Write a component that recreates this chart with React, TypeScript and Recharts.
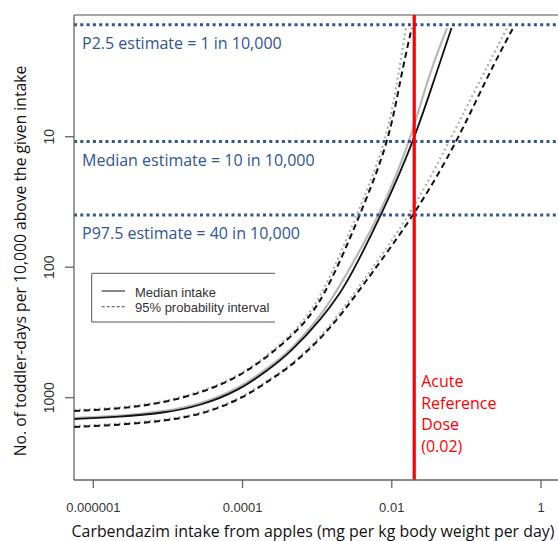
import React from 'react';
import { LineChart, Line, XAxis, YAxis, ReferenceLine, Legend } from 'recharts';

// Axis domains (log scales)
const X_MIN = 5.51e-7;
const X_MAX = 1.69;
const Y_TOP = 1.168;
const Y_BOTTOM = 4273;

const xTicks = [0.000001, 0.0001, 0.01, 1];
const xTickLabels = ['0.000001', '0.0001', '0.01', '1'];
const yTicks = [10, 100, 1000];

// Black curves
const lowerBoundX = [5.51e-7, 2.21e-6, 8.86e-6, 3.34e-5, 9.24e-5, 2.33e-4, 7.24e-4, 1.487e-3, 3.75e-3, 9.18e-3, 1.317e-2, 1.849e-2];
const lowerBoundY = [1265, 1221, 1098, 889, 682, 471, 268, 137, 39.8, 11.0, 3.49, 1.47];

const medianX = [5.51e-7, 2.21e-6, 8.86e-6, 2.69e-5, 9.24e-5, 2.19e-4, 4.33e-4, 1.198e-3, 2.024e-3, 2.76e-3, 7.29e-3, 1.955e-2, 3.8e-2, 6.32e-2];
const medianY = [1456, 1406, 1310, 1158, 873, 614, 455, 241, 158, 119, 39.8, 11.0, 3.49, 1.47];

const upperBoundX = [5.51e-7, 2.21e-6, 8.86e-6, 2.69e-5, 9.24e-5, 2.33e-4, 4.33e-4, 1.198e-3, 2.76e-3, 4.95e-3, 2.02e-2, 7.49e-2, 0.189, 0.4215];
const upperBoundY = [1677, 1619, 1508, 1357, 1041, 732, 582, 343, 188, 119, 39.8, 11.0, 3.49, 1.47];

// Grey curves
const altMedianX = [5.51e-7, 2.21e-6, 8.86e-6, 2.69e-5, 9.24e-5, 2.19e-4, 4.33e-4, 1.198e-3, 2.36e-3, 6.96e-3, 1.755e-2, 3.06e-2, 5.5e-2];
const altMedianY = [1431, 1381, 1276, 1130, 843, 592, 439, 228, 119, 39.8, 11.0, 3.49, 1.47];

const altLowerX = [5.51e-7, 2.21e-6, 8.86e-6, 3.34e-5, 9.24e-5, 2.33e-4, 6.87e-4, 1.355e-3, 3.42e-3, 8.5e-3, 1.212e-2, 1.551e-2];
const altLowerY = [1243, 1199, 1079, 873, 670, 463, 263, 137, 39.8, 11.0, 3.49, 1.47];

const altUpperX = [5.51e-7, 2.21e-6, 8.86e-6, 2.69e-5, 9.24e-5, 2.33e-4, 4.33e-4, 1.198e-3, 2.59e-3, 4.51e-3, 1.782e-2, 5.85e-2, 0.1604, 0.3503];
const altUpperY = [1648, 1590, 1482, 1334, 1023, 719, 572, 331, 185, 119, 39.8, 11.0, 3.49, 1.47];

// Annotations
const thresholdValues = [1.39, 10.9, 39.8];
const thresholdLabels = ['P2.5 estimate = 1 in 10,000', 'Median estimate = 10 in 10,000', 'P97.5 estimate = 40 in 10,000'];
const ARFD = 0.02;
const arfdLabelLines = ['Acute', 'Reference', 'Dose', '(0.02)'];
const legendLabels = ['Median intake', '95% probability interval'];

const xTitle = 'Carbendazim intake from apples (mg per kg body weight per day)';
const yTitle = 'No. of toddler-days per 10,000 above the given intake';

const BLUE = '#2F5597';
const RED = '#FF0000';
const AXIS = '#666';
const SANS = '"Open Sans", "Noto Sans", sans-serif';
const ARIAL = '"Liberation Sans", Arial, sans-serif';

const toPoints = (xs: number[], ys: number[]) => xs.map((x, i) => ({ x, y: ys[i] }));

const lowerBound = toPoints(lowerBoundX, lowerBoundY);
const median = toPoints(medianX, medianY);
const upperBound = toPoints(upperBoundX, upperBoundY);
const altMedian = toPoints(altMedianX, altMedianY);
const altLower = toPoints(altLowerX, altLowerY);
const altUpper = toPoints(altUpperX, altUpperY);

const formatX = (v: number) => {
  const i = xTicks.indexOf(v);
  return i >= 0 ? xTickLabels[i] : String(v);
};

const YTick = (props: any) => {
  const { x, y, payload } = props;
  return (
    <text
      x={x}
      y={y}
      transform={`rotate(-90 ${x} ${y})`}
      textAnchor="middle"
      dy="0.36em"
      fontSize={14}
      fill="#333"
      fontFamily={ARIAL}
    >
      {payload.value}
    </text>
  );
};

const makeThresholdLabel = (text: string) => (props: any) => {
  const vb = (props && props.viewBox) || {};
  const x = (vb.x ?? 74) + 8;
  const y = (vb.y ?? 0) + 24;
  return (
    <text x={x} y={y} fill={BLUE} fontSize={16} fontFamily={SANS}>
      {text}
    </text>
  );
};

const arfdLabel = (props: any) => {
  const vb = (props && props.viewBox) || {};
  const x = (vb.x ?? 414) + 7;
  const y0 = (vb.y ?? 15) + 371.7;
  return (
    <text fill={RED} fontSize={16} fontFamily={SANS}>
      {arfdLabelLines.map((t, i) => (
        <tspan key={i} x={x} y={y0 + i * 21.8}>
          {t}
        </tspan>
      ))}
    </text>
  );
};

const xTitleLabel = () => (
  <text x={313} y={536.5} textAnchor="middle" fontSize={15.9} fill="#111" fontFamily={SANS}>
    {xTitle}
  </text>
);

const yTitleLabel = () => (
  <text x={26} y={261} transform="rotate(-90 26 261)" textAnchor="middle" fontSize={15.7} fill="#111" fontFamily={SANS}>
    {yTitle}
  </text>
);

const renderLegend = () => (
  <svg width={184} height={52} style={{ display: 'block', overflow: 'visible' }}>
    <line x1={0.7} y1={1.3} x2={184} y2={1.3} stroke="#555" strokeWidth={1} />
    <line x1={0.7} y1={1.3} x2={0.7} y2={50} stroke="#555" strokeWidth={1} />
    <line x1={0.7} y1={50} x2={184} y2={50} stroke="#555" strokeWidth={1} />
    <line x1={10.7} y1={19} x2={34} y2={19} stroke="#222" strokeWidth={1.1} />
    <line x1={10.7} y1={34.7} x2={34} y2={34.7} stroke="#444" strokeWidth={1.1} strokeDasharray="3 2" />
    <text x={44} y={24.5} fontSize={13} fill="#333" fontFamily={ARIAL}>
      {legendLabels[0]}
    </text>
    <text x={44} y={39.5} fontSize={13} fill="#333" fontFamily={ARIAL}>
      {legendLabels[1]}
    </text>
  </svg>
);

const CURVE = 'basis' as const;

export default function App() {
  return (
    <div style={{ position: 'absolute', left: 0, top: 0, width: 558, height: 541, background: '#fff' }}>
      <LineChart width={558} height={541} margin={{ top: 15, right: 0, bottom: 31, left: 14 }}>
        <XAxis
          dataKey="x"
          type="number"
          scale="log"
          domain={[X_MIN, X_MAX]}
          allowDataOverflow
          ticks={xTicks}
          tickFormatter={formatX}
          interval={0}
          height={30}
          tickSize={8}
          tickMargin={15}
          tick={{ fontSize: 13, fill: '#333', fontFamily: ARIAL }}
          axisLine={{ stroke: AXIS, strokeWidth: 1.3 }}
          tickLine={{ stroke: AXIS, strokeWidth: 1.3 }}
          label={xTitleLabel}
        />
        <YAxis
          dataKey="y"
          type="number"
          scale="log"
          domain={[Y_TOP, Y_BOTTOM]}
          reversed
          allowDataOverflow
          ticks={yTicks}
          interval={0}
          width={60}
          tickSize={9}
          tickMargin={16.5}
          tick={<YTick />}
          axisLine={{ stroke: AXIS, strokeWidth: 1.3 }}
          tickLine={{ stroke: AXIS, strokeWidth: 1.3 }}
          label={yTitleLabel}
        />
        <ReferenceLine y={Y_TOP} stroke="#888" strokeWidth={1.5} ifOverflow="visible" />

        <Line data={altLower} dataKey="y" type={CURVE} dot={false} activeDot={false} stroke="#b0b0b0" strokeWidth={2.2} strokeDasharray="2 3" isAnimationActive={false} legendType="none" />
        <Line data={altUpper} dataKey="y" type={CURVE} dot={false} activeDot={false} stroke="#b0b0b0" strokeWidth={2.2} strokeDasharray="2 3" isAnimationActive={false} legendType="none" />
        <Line data={altMedian} dataKey="y" type={CURVE} dot={false} activeDot={false} stroke="#b8b8b8" strokeWidth={2.2} isAnimationActive={false} legendType="none" />
        <Line data={lowerBound} dataKey="y" type={CURVE} dot={false} activeDot={false} stroke="#111" strokeWidth={2} strokeDasharray="6 4" isAnimationActive={false} legendType="none" />
        <Line data={upperBound} dataKey="y" type={CURVE} dot={false} activeDot={false} stroke="#111" strokeWidth={2} strokeDasharray="6 4" isAnimationActive={false} legendType="none" />
        <Line data={median} dataKey="y" type={CURVE} dot={false} activeDot={false} stroke="#111" strokeWidth={1.8} isAnimationActive={false} legendType="none" />

        {thresholdValues.map((v, i) => (
          <ReferenceLine
            key={i}
            y={v}
            stroke={BLUE}
            strokeWidth={3}
            strokeDasharray="3 3.3"
            ifOverflow="visible"
            label={makeThresholdLabel(thresholdLabels[i])}
          />
        ))}
        <ReferenceLine x={ARFD} stroke={RED} strokeWidth={3.2} ifOverflow="visible" label={arfdLabel} />

        <Legend
          layout="horizontal"
          verticalAlign="middle"
          align="center"
          content={renderLegend}
          wrapperStyle={{ left: 91, top: 272, width: 184, height: 52, margin: 0, padding: 0, lineHeight: 0 }}
        />
      </LineChart>
    </div>
  );
}
